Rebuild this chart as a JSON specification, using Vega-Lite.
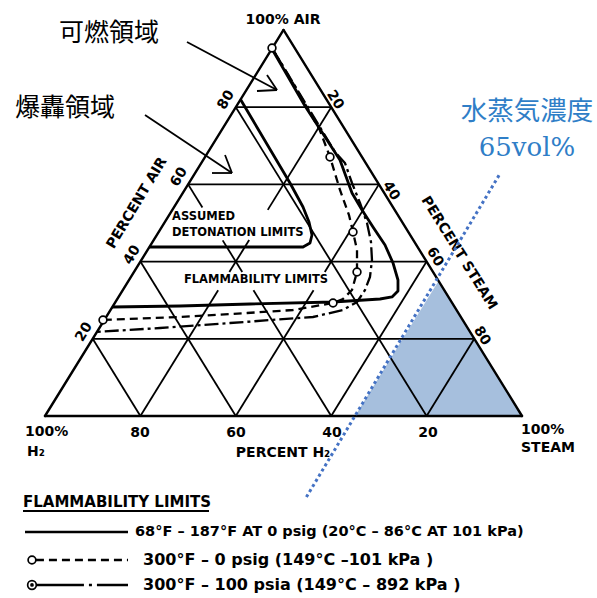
{
  "$schema": "https://vega.github.io/schema/vega-lite/v6.json",
  "width": 597,
  "height": 598,
  "autosize": "none",
  "padding": 0,
  "background": "white",
  "config": {"view": {"stroke": null}},
  "datasets": {
    "shade": [{"x": 65, "y": 0}, {"x": 82.5, "y": 35}, {"x": 100, "y": 0}],
    "frame": [
      {"x": 0, "y": 0, "x2": 100, "y2": 0},
      {"x": 0, "y": 0, "x2": 50, "y2": 100},
      {"x": 50, "y": 100, "x2": 100, "y2": 0}
    ],
    "grid": [
      {"x": 10, "y": 20, "x2": 90, "y2": 20},
      {"x": 20, "y": 40, "x2": 80, "y2": 40},
      {"x": 30, "y": 60, "x2": 70, "y2": 60},
      {"x": 40, "y": 80, "x2": 60, "y2": 80},
      {"x": 20, "y": 0, "x2": 36.3, "y2": 32.6},
      {"x": 38.65, "y": 37.3, "x2": 42.8, "y2": 45.6},
      {"x": 46.7, "y": 53.4, "x2": 60, "y2": 80},
      {"x": 40, "y": 0, "x2": 56.3, "y2": 32.6},
      {"x": 58.65, "y": 37.3, "x2": 70, "y2": 60},
      {"x": 60, "y": 0, "x2": 80, "y2": 40},
      {"x": 80, "y": 0, "x2": 90, "y2": 20},
      {"x": 80, "y": 0, "x2": 40, "y2": 80},
      {"x": 60, "y": 0, "x2": 43.7, "y2": 32.6},
      {"x": 41.35, "y": 37.3, "x2": 37.25, "y2": 45.5},
      {"x": 33, "y": 54, "x2": 30, "y2": 60},
      {"x": 40, "y": 0, "x2": 20, "y2": 40},
      {"x": 20, "y": 0, "x2": 10, "y2": 20}
    ],
    "curves": [
      {"curve": "solid", "o": 1, "x": 47.59, "y": 95.08},
      {"curve": "solid", "o": 2, "x": 54.51, "y": 80.31},
      {"curve": "solid", "o": 3, "x": 61.84, "y": 66.32},
      {"curve": "solid", "o": 4, "x": 64.36, "y": 57.77},
      {"curve": "solid", "o": 5, "x": 66.46, "y": 53.37},
      {"curve": "solid", "o": 6, "x": 68.76, "y": 48.96},
      {"curve": "solid", "o": 7, "x": 71.28, "y": 44.30},
      {"curve": "solid", "o": 8, "x": 72.96, "y": 39.64},
      {"curve": "solid", "o": 9, "x": 74.0, "y": 35.23},
      {"curve": "solid", "o": 10, "x": 74.0, "y": 32.38},
      {"curve": "solid", "o": 11, "x": 72.75, "y": 30.83},
      {"curve": "solid", "o": 12, "x": 70.23, "y": 30.31},
      {"curve": "solid", "o": 13, "x": 60.38, "y": 29.53},
      {"curve": "solid", "o": 14, "x": 42.98, "y": 29.02},
      {"curve": "solid", "o": 15, "x": 28.30, "y": 28.50},
      {"curve": "solid", "o": 16, "x": 14.05, "y": 28.24},
      {"curve": "deton", "o": 1, "x": 41.0, "y": 82.0},
      {"curve": "deton", "o": 2, "x": 51.36, "y": 60.36},
      {"curve": "deton", "o": 3, "x": 54.09, "y": 54.15},
      {"curve": "deton", "o": 4, "x": 55.35, "y": 50.26},
      {"curve": "deton", "o": 5, "x": 55.97, "y": 46.89},
      {"curve": "deton", "o": 6, "x": 55.56, "y": 44.82},
      {"curve": "deton", "o": 7, "x": 54.09, "y": 43.78},
      {"curve": "deton", "o": 8, "x": 45.07, "y": 43.78},
      {"curve": "deton", "o": 9, "x": 21.9, "y": 43.78},
      {"curve": "dash", "o": 1, "x": 47.59, "y": 95.34},
      {"curve": "dash", "o": 2, "x": 53.46, "y": 83.16},
      {"curve": "dash", "o": 3, "x": 57.6, "y": 74.1},
      {"curve": "dash", "o": 4, "x": 59.75, "y": 67.10},
      {"curve": "dash", "o": 5, "x": 61.84, "y": 58.55},
      {"curve": "dash", "o": 6, "x": 63.73, "y": 52.07},
      {"curve": "dash", "o": 7, "x": 64.57, "y": 47.67},
      {"curve": "dash", "o": 8, "x": 65.41, "y": 43.01},
      {"curve": "dash", "o": 9, "x": 65.41, "y": 37.31},
      {"curve": "dash", "o": 10, "x": 64.36, "y": 32.64},
      {"curve": "dash", "o": 11, "x": 62.47, "y": 30.31},
      {"curve": "dash", "o": 12, "x": 60.38, "y": 29.27},
      {"curve": "dash", "o": 13, "x": 51.99, "y": 27.46},
      {"curve": "dash", "o": 14, "x": 42.35, "y": 26.68},
      {"curve": "dash", "o": 15, "x": 28.30, "y": 25.65},
      {"curve": "dash", "o": 16, "x": 12.16, "y": 24.87},
      {"curve": "dashdot", "o": 1, "x": 47.59, "y": 95.34},
      {"curve": "dashdot", "o": 2, "x": 60.80, "y": 68.39},
      {"curve": "dashdot", "o": 3, "x": 62.89, "y": 65.54},
      {"curve": "dashdot", "o": 4, "x": 64.36, "y": 60.36},
      {"curve": "dashdot", "o": 5, "x": 66.04, "y": 55.18},
      {"curve": "dashdot", "o": 6, "x": 67.51, "y": 50.0},
      {"curve": "dashdot", "o": 7, "x": 68.34, "y": 45.08},
      {"curve": "dashdot", "o": 8, "x": 68.55, "y": 40.41},
      {"curve": "dashdot", "o": 9, "x": 68.13, "y": 36.01},
      {"curve": "dashdot", "o": 10, "x": 67.09, "y": 32.64},
      {"curve": "dashdot", "o": 11, "x": 65.41, "y": 29.53},
      {"curve": "dashdot", "o": 12, "x": 62.47, "y": 27.46},
      {"curve": "dashdot", "o": 13, "x": 56.18, "y": 25.65},
      {"curve": "dashdot", "o": 14, "x": 38.78, "y": 24.09},
      {"curve": "dashdot", "o": 15, "x": 24.11, "y": 22.80},
      {"curve": "dashdot", "o": 16, "x": 10.9, "y": 21.8}
    ],
    "circles": [
      {"x": 47.59, "y": 95.34},
      {"x": 59.75, "y": 67.10},
      {"x": 64.57, "y": 47.67},
      {"x": 65.41, "y": 37.31},
      {"x": 60.38, "y": 29.27},
      {"x": 12.16, "y": 24.87},
      {"x": -2.73, "y": -37.31}
    ],
    "arrows": [
      {"x": 29.77, "y": 96.89, "x2": 48.64, "y2": 84.46},
      {"x": 48.64, "y": 84.46, "x2": 44.44, "y2": 84.2},
      {"x": 48.64, "y": 84.46, "x2": 46.54, "y2": 88.34},
      {"x": 20.96, "y": 77.98, "x2": 39.2, "y2": 62.95},
      {"x": 39.2, "y": 62.95, "x2": 35.01, "y2": 62.95},
      {"x": 39.2, "y": 62.95, "x2": 37.74, "y2": 67.62},
      {"x": -4.61, "y": -24.61, "x2": 34.38, "y2": -24.61}
    ],
    "labels": [
      {"g": "h", "text": "100% AIR", "x": 49.9, "y": 102.59},
      {"g": "h", "text": "PERCENT H₂", "x": 49.9, "y": -9.59},
      {"g": "h", "text": "80", "x": 19.92, "y": -4.4},
      {"g": "h", "text": "60", "x": 40.04, "y": -4.4},
      {"g": "h", "text": "40", "x": 60.17, "y": -4.4},
      {"g": "h", "text": "20", "x": 80.29, "y": -4.4},
      {"g": "hl", "text": "100%", "x": -4.19, "y": -4.15},
      {"g": "hl", "text": "H₂", "x": -3.77, "y": -9.33},
      {"g": "hl", "text": "100%", "x": 99.79, "y": -3.63},
      {"g": "hl", "text": "STEAM", "x": 99.79, "y": -8.29},
      {"g": "l", "text": "80", "x": 37.95, "y": 81.87},
      {"g": "l", "text": "60", "x": 28.09, "y": 61.92},
      {"g": "l", "text": "40", "x": 18.24, "y": 41.71},
      {"g": "l", "text": "20", "x": 8.18, "y": 21.76},
      {"g": "l", "text": "PERCENT AIR", "x": 19.29, "y": 55.18},
      {"g": "r", "text": "20", "x": 60.8, "y": 81.87},
      {"g": "r", "text": "40", "x": 72.54, "y": 58.29},
      {"g": "r", "text": "60", "x": 81.76, "y": 41.19},
      {"g": "r", "text": "80", "x": 91.61, "y": 20.73},
      {"g": "r", "text": "PERCENT STEAM", "x": 86.79, "y": 42.23},
      {"g": "in", "text": "ASSUMED", "x": 26.62, "y": 51.55},
      {"g": "in", "text": "DETONATION LIMITS", "x": 26.62, "y": 47.41},
      {"g": "inc", "text": "FLAMMABILITY LIMITS", "x": 44.23, "y": 35.23},
      {"g": "jp", "text": "可燃領域", "x": 13.42, "y": 99.22},
      {"g": "jp", "text": "爆轟領域", "x": 4.19, "y": 79.79},
      {"g": "legt", "text": "FLAMMABILITY LIMITS", "x": -4.61, "y": -22.28},
      {"g": "leg1", "text": "68°F – 187°F AT 0 psig (20°C – 86°C AT 101 kPa)", "x": 18.87, "y": -30.05},
      {"g": "leg2", "text": "300°F – 0 psig (149°C –101 kPa )", "x": 20.55, "y": -37.31},
      {"g": "leg2", "text": "300°F – 100 psia (149°C – 892 kPa )", "x": 20.55, "y": -43.78}
    ]
  },
  "encoding": {
    "x": {"field": "x", "type": "quantitative", "scale": {"domain": [-9.434, 115.723], "nice": false, "zero": false}, "axis": null},
    "y": {"field": "y", "type": "quantitative", "scale": {"domain": [-47.15, 107.77], "nice": false, "zero": false}, "axis": null}
  },
  "layer": [
    {"data": {"name": "shade"}, "mark": {"type": "area", "color": "#a6bfdd", "opacity": 1}, "encoding": {"y2": {"datum": 0}}},
    {"data": {"name": "grid"}, "mark": {"type": "rule", "color": "black", "strokeWidth": 1.8}, "encoding": {"x2": {"field": "x2"}, "y2": {"field": "y2"}}},
    {"data": {"name": "frame"}, "mark": {"type": "rule", "color": "black", "strokeWidth": 2.4, "strokeCap": "round"}, "encoding": {"x2": {"field": "x2"}, "y2": {"field": "y2"}}},
    {"data": {"name": "curves"}, "transform": [{"filter": "datum.curve == 'solid'"}], "mark": {"type": "line", "color": "black", "strokeWidth": 2.8, "strokeJoin": "round"}, "encoding": {"order": {"field": "o", "type": "quantitative"}}},
    {"data": {"name": "curves"}, "transform": [{"filter": "datum.curve == 'deton'"}], "mark": {"type": "line", "color": "black", "strokeWidth": 2.8, "strokeJoin": "round"}, "encoding": {"order": {"field": "o", "type": "quantitative"}}},
    {"data": {"name": "curves"}, "transform": [{"filter": "datum.curve == 'dash'"}], "mark": {"type": "line", "color": "black", "strokeWidth": 2.3, "strokeDash": [8, 5]}, "encoding": {"order": {"field": "o", "type": "quantitative"}}},
    {"data": {"name": "curves"}, "transform": [{"filter": "datum.curve == 'dashdot'"}], "mark": {"type": "line", "color": "black", "strokeWidth": 2.3, "strokeDash": [14, 4, 3, 4]}, "encoding": {"order": {"field": "o", "type": "quantitative"}}},
    {"data": {"name": "arrows"}, "mark": {"type": "rule", "color": "black", "strokeWidth": 1.8}, "encoding": {"x2": {"field": "x2"}, "y2": {"field": "y2"}}},
    {"data": {"values": [{"x": -4.19, "y": -30.05, "x2": 17.4, "y2": -30.05}]}, "mark": {"type": "rule", "color": "black", "strokeWidth": 2.4}, "encoding": {"x2": {"field": "x2"}, "y2": {"field": "y2"}}},
    {"data": {"values": [{"x": -1.9, "y": -37.31, "x2": 17.4, "y2": -37.31}]}, "mark": {"type": "rule", "color": "black", "strokeWidth": 2.4, "strokeDash": [8, 5]}, "encoding": {"x2": {"field": "x2"}, "y2": {"field": "y2"}}},
    {"data": {"values": [{"x": -1.9, "y": -43.78, "x2": 17.4, "y2": -43.78}]}, "mark": {"type": "rule", "color": "black", "strokeWidth": 2.4, "strokeDash": [48, 5, 3, 5, 60]}, "encoding": {"x2": {"field": "x2"}, "y2": {"field": "y2"}}},
    {"data": {"name": "circles"}, "mark": {"type": "point", "shape": "circle", "filled": true, "fill": "white", "stroke": "black", "strokeWidth": 1.7, "size": 60, "opacity": 1}},
    {"data": {"values": [{"x": -2.73, "y": -43.78}]}, "mark": {"type": "point", "shape": "circle", "filled": true, "fill": "white", "stroke": "black", "strokeWidth": 1.7, "size": 75, "opacity": 1}},
    {"data": {"values": [{"x": -2.73, "y": -43.78}]}, "mark": {"type": "point", "shape": "circle", "filled": true, "color": "black", "size": 14, "opacity": 1}},
    {"data": {"name": "labels"}, "transform": [{"filter": "datum.g == 'h'"}], "mark": {"type": "text", "font": "DejaVu Sans", "fontWeight": "bold", "fontSize": 14, "align": "center", "baseline": "middle", "color": "black"}, "encoding": {"text": {"field": "text"}}},
    {"data": {"name": "labels"}, "transform": [{"filter": "datum.g == 'hl'"}], "mark": {"type": "text", "font": "DejaVu Sans", "fontWeight": "bold", "fontSize": 14, "align": "left", "baseline": "middle", "color": "black"}, "encoding": {"text": {"field": "text"}}},
    {"data": {"name": "labels"}, "transform": [{"filter": "datum.g == 'l'"}], "mark": {"type": "text", "font": "DejaVu Sans", "fontWeight": "bold", "fontSize": 14, "align": "center", "baseline": "middle", "angle": 301, "color": "black"}, "encoding": {"text": {"field": "text"}}},
    {"data": {"name": "labels"}, "transform": [{"filter": "datum.g == 'r'"}], "mark": {"type": "text", "font": "DejaVu Sans", "fontWeight": "bold", "fontSize": 14, "align": "center", "baseline": "middle", "angle": 58, "color": "black"}, "encoding": {"text": {"field": "text"}}},
    {"data": {"name": "labels"}, "transform": [{"filter": "datum.g == 'in'"}], "mark": {"type": "text", "font": "DejaVu Sans", "fontWeight": "bold", "fontSize": 11.5, "align": "left", "baseline": "middle", "color": "black"}, "encoding": {"text": {"field": "text"}}},
    {"data": {"name": "labels"}, "transform": [{"filter": "datum.g == 'inc'"}], "mark": {"type": "text", "font": "DejaVu Sans", "fontWeight": "bold", "fontSize": 11.5, "align": "center", "baseline": "middle", "color": "black"}, "encoding": {"text": {"field": "text"}}},
    {"data": {"name": "labels"}, "transform": [{"filter": "datum.g == 'jp'"}], "mark": {"type": "text", "font": "Noto Sans CJK JP", "fontWeight": 400, "fontSize": 25, "align": "center", "baseline": "middle", "color": "black"}, "encoding": {"text": {"field": "text"}}},
    {"data": {"name": "labels"}, "transform": [{"filter": "datum.g == 'legt'"}], "mark": {"type": "text", "font": "DejaVu Sans", "fontWeight": "bold", "fontSize": 15, "align": "left", "baseline": "middle", "color": "black"}, "encoding": {"text": {"field": "text"}}},
    {"data": {"name": "labels"}, "transform": [{"filter": "datum.g == 'leg1'"}], "mark": {"type": "text", "font": "DejaVu Sans", "fontWeight": "bold", "fontSize": 14.5, "align": "left", "baseline": "middle", "color": "black"}, "encoding": {"text": {"field": "text"}}},
    {"data": {"name": "labels"}, "transform": [{"filter": "datum.g == 'leg2'"}], "mark": {"type": "text", "font": "DejaVu Sans", "fontWeight": "bold", "fontSize": 16, "align": "left", "baseline": "middle", "color": "black"}, "encoding": {"text": {"field": "text"}}},
    {"data": {"values": [{"x": 54.8, "y": -21, "x2": 95.5, "y2": 63}]}, "mark": {"type": "rule", "color": "#4472c4", "strokeWidth": 3, "strokeDash": [3, 3]}, "encoding": {"x2": {"field": "x2"}, "y2": {"field": "y2"}}},
    {"data": {"values": [{"text": "水蒸気濃度", "x": 101.05, "y": 78.76}]}, "mark": {"type": "text", "font": "Noto Sans CJK JP", "fontWeight": 400, "fontSize": 26.5, "align": "center", "baseline": "middle", "color": "#2f7ec7"}, "encoding": {"text": {"field": "text"}}},
    {"data": {"values": [{"text": "65vol%", "x": 101.05, "y": 69.43}]}, "mark": {"type": "text", "font": "DejaVu Serif", "fontSize": 26, "align": "center", "baseline": "middle", "color": "#2f7ec7"}, "encoding": {"text": {"field": "text"}}}
  ]
}
